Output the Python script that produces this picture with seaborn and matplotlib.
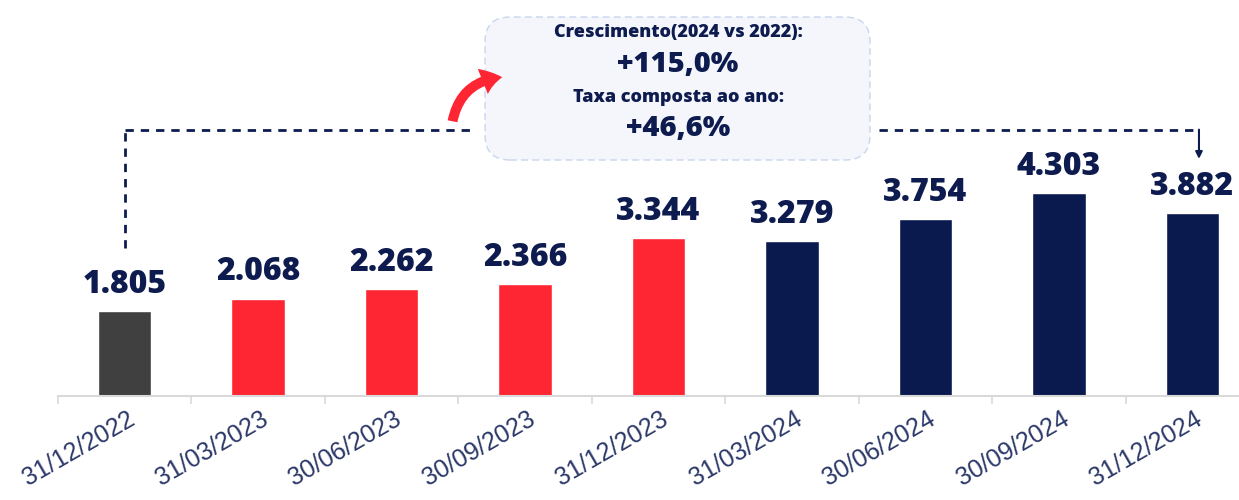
import matplotlib
matplotlib.use("Agg")
import matplotlib.pyplot as plt
import matplotlib.transforms as mtransforms
from matplotlib.patches import FancyBboxPatch, FancyArrowPatch
import seaborn as sns
import pandas as pd

datas = ["31/12/2022", "31/03/2023", "30/06/2023", "30/09/2023", "31/12/2023",
         "31/03/2024", "30/06/2024", "30/09/2024", "31/12/2024"]
valores = [1805, 2068, 2262, 2366, 3344, 3279, 3754, 4303, 3882]
rotulos = ["1.805", "2.068", "2.262", "2.366", "3.344", "3.279", "3.754", "4.303", "3.882"]
cores = ["#404040", "#ff2633", "#ff2633", "#ff2633", "#ff2633",
         "#0b1a4e", "#0b1a4e", "#0b1a4e", "#0b1a4e"]

titulo1 = "Crescimento(2024 vs 2022):"
valor1 = "+115,0%"
titulo2 = "Taxa composta ao ano:"
valor2 = "+46,6%"

navy = "#0d1b4f"

sns.set_style("white")
plt.rcParams["font.family"] = ["Open Sans", "DejaVu Sans"]

df = pd.DataFrame({"data": datas, "valor": valores})

fig = plt.figure(figsize=(12.39, 5), dpi=100)
ax = fig.add_axes([58 / 1239, 104 / 500, 1 - 58 / 1239, 396 / 500])

sns.barplot(data=df, x="data", y="valor", hue="data", palette=cores,
            legend=False, width=0.4, ax=ax, saturation=1)

ax.set_xlim(-0.5, 8.35)
ax.set_ylim(0, 8400)
ax.set_xlabel("")
ax.set_ylabel("")
ax.set_yticks([])
for s in ["top", "right", "left"]:
    ax.spines[s].set_visible(False)
ax.spines["bottom"].set_color("#d9d9d9")
ax.spines["bottom"].set_linewidth(1.5)

# marcas entre categorias
ax.set_xticks([i - 0.5 for i in range(len(datas))], minor=True)
ax.tick_params(axis="x", which="minor", bottom=True, length=6, width=1.2,
               color="#d9d9d9")
ax.tick_params(axis="x", which="major", bottom=True, length=0, pad=8)
ax.set_xticks(range(len(datas)))
ax.set_xticklabels(datas, rotation=30, ha="right", fontsize=18,
                   color="#2b3868", family=["Liberation Sans", "DejaVu Sans"])
offset = mtransforms.ScaledTranslation(0.14, 0, fig.dpi_scale_trans)
for lbl in ax.get_xticklabels():
    lbl.set_transform(lbl.get_transform() + offset)

# rotulos de valor
for i, (v, r) in enumerate(zip(valores, rotulos)):
    ax.annotate(r, (i, v), xytext=(0, 13), textcoords="offset points",
                ha="center", va="baseline", fontsize=23, fontweight="heavy",
                color=navy)

# linha tracejada de comparacao
y_linha = 5650
traco = (0, (3, 2.5))
ax.plot([0, 0], [3150, y_linha], ls=traco, color=navy, lw=2, clip_on=False)
ax.plot([0, 2.6], [y_linha, y_linha], ls=traco, color=navy, lw=2, clip_on=False)
ax.plot([5.65, 8.05], [y_linha, y_linha], ls=traco, color=navy, lw=2, clip_on=False)
ax.annotate("", xy=(8.05, 5030), xytext=(8.05, y_linha),
            arrowprops=dict(arrowstyle="-|>", color=navy, lw=1.5,
                            mutation_scale=10, shrinkA=0, shrinkB=0))

# caixa de destaque
caixa = FancyBboxPatch((4.95, 3.50), 3.65, 1.23,
                       boxstyle="round,pad=0.1,rounding_size=0.25",
                       transform=fig.dpi_scale_trans, facecolor="#f4f6fb",
                       edgecolor="#c9d6ee", lw=1, ls=(0, (5, 3)))
fig.patches.append(caixa)

cx = 678 / 1239
fig.text(cx, 1 - 32 / 500, titulo1, ha="center", va="center", fontsize=13,
         fontweight="heavy", color=navy)
fig.text(cx, 1 - 64 / 500, valor1, ha="center", va="center", fontsize=21,
         fontweight="heavy", color=navy)
fig.text(cx, 1 - 97 / 500, titulo2, ha="center", va="center", fontsize=13,
         fontweight="heavy", color=navy)
fig.text(cx, 1 - 128 / 500, valor2, ha="center", va="center", fontsize=21,
         fontweight="heavy", color=navy)

# seta vermelha
seta = FancyArrowPatch((452 / 1239, 1 - 124 / 500), (505 / 1239, 1 - 77 / 500),
                       transform=fig.transFigure,
                       connectionstyle="arc3,rad=-0.4",
                       arrowstyle="simple,tail_width=0.55,head_width=1.5,head_length=1.1",
                       mutation_scale=13, color="#ff2633", lw=0)
fig.patches.append(seta)

fig.savefig("out.png", dpi=100)
